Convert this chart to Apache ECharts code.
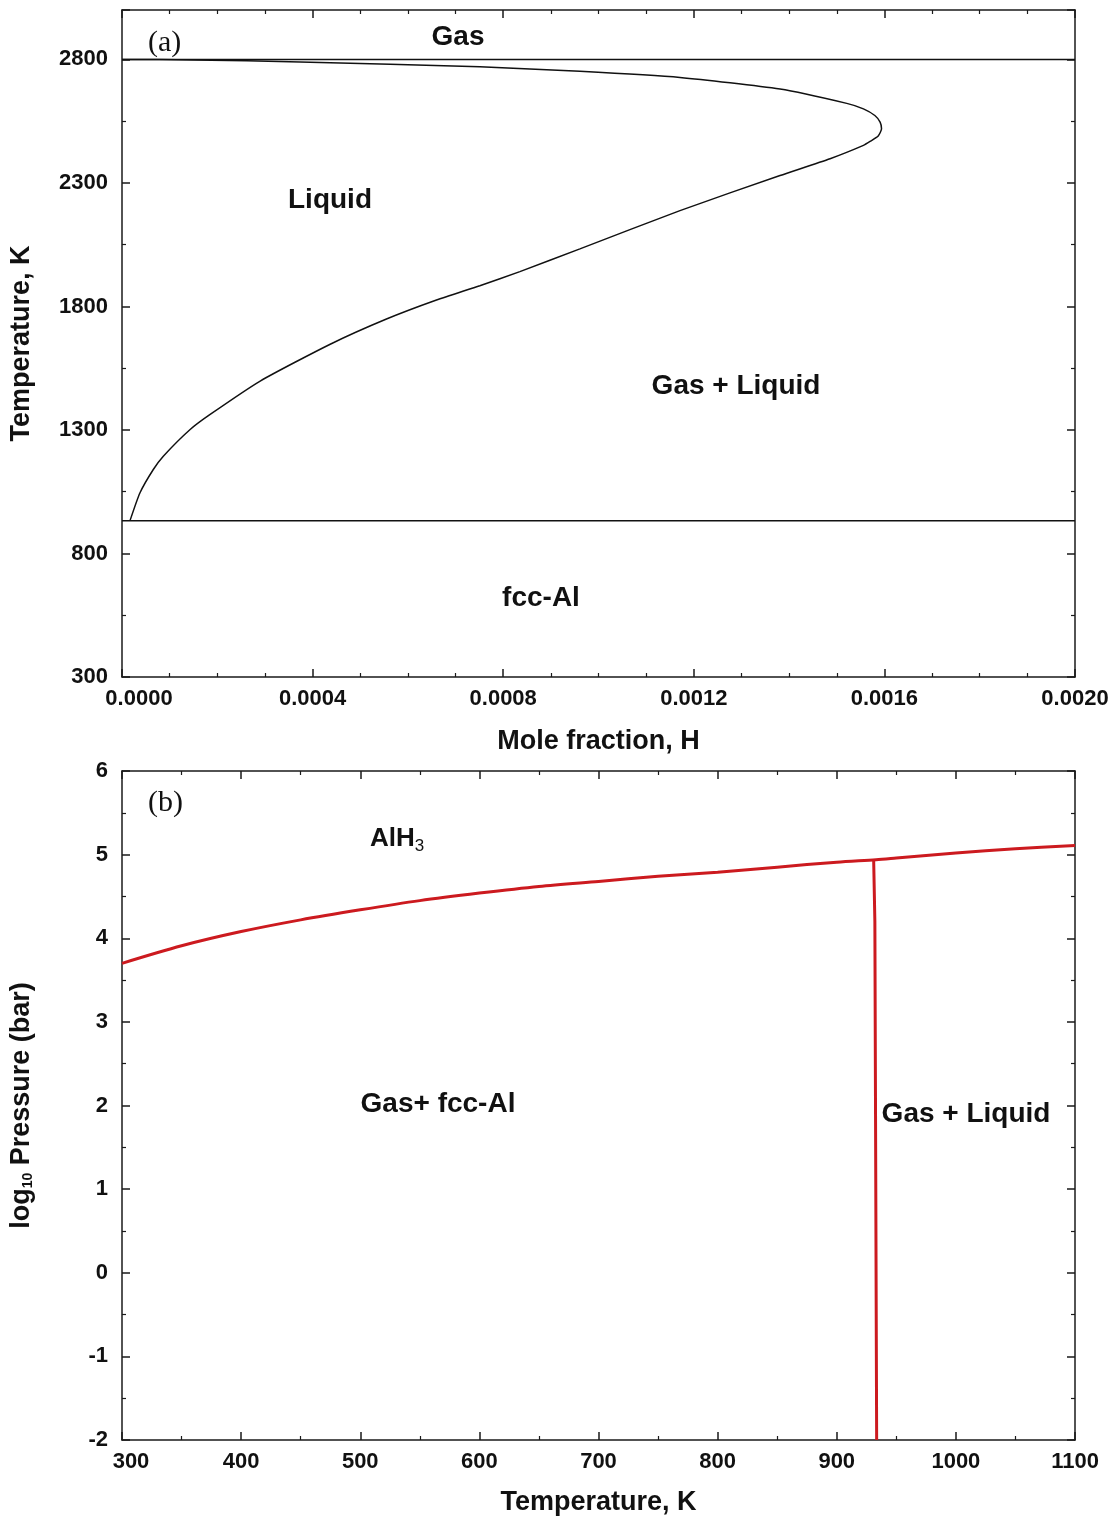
<!DOCTYPE html>
<html>
<head>
<meta charset="utf-8">
<title>Al–H phase diagram</title>
<script src="https://cdn.jsdelivr.net/npm/echarts@6/dist/echarts.min.js"></script>
<style>
  html, body { margin: 0; padding: 0; background: #fff; }
  #chart { width: 1115px; height: 1523px; }
</style>
</head>
<body>
<div id="chart"></div>
<script>
// (a) Liquid / Gas+Liquid boundary: mole fraction H vs temperature (K)
const boundaryX = [0.0000168, 0.0000378, 0.0000657, 0.0000867, 0.000143, 0.000185, 0.00029, 0.000437,
  0.000555, 0.00066, 0.000751, 0.000835, 0.000961, 0.001171, 0.001381, 0.001486, 0.001556, 0.00157,
  0.001587, 0.001594, 0.001591, 0.00158, 0.001556, 0.001521, 0.001381, 0.001171, 0.000961, 0.000751,
  0.000374, 0.00015, 0];
const boundaryT = [933, 1046, 1140, 1194, 1302, 1363, 1498, 1647,
  1749, 1826, 1884, 1941, 2033, 2188, 2330, 2398, 2452, 2468,
  2490, 2519, 2546, 2573, 2600, 2622, 2680, 2727, 2752, 2770,
  2790, 2798, 2800];
// horizontal boundaries in (a): boiling (Gas) and melting (fcc-Al)
const gasLineT = 2800;
const meltLineT = 933;
const moleFractionRange = [0, 0.002];

// (b) AlH3 decomposition pressure vs temperature
const alh3T = [300, 350, 400, 450, 500, 550, 600, 650, 700, 750, 800, 850, 900, 933, 950, 1000, 1050, 1100];
const alh3LogP = [3.70, 3.91, 4.08, 4.22, 4.34, 4.45, 4.54, 4.62, 4.68, 4.74, 4.79, 4.85, 4.91, 4.94, 4.96, 5.02, 5.07, 5.11];
// melting of Al: near-vertical boundary
const meltT = [931, 932, 933.5];
const meltLogP = [4.93, 4.2, -2];

const zip = (a, b) => a.map((v, i) => [v, b[i]]);

const FONT = 'Liberation Sans, Arial, sans-serif';
const SERIF = 'Liberation Serif, Times New Roman, serif';
const AX = '#1a1a1a';
const TICK_FS = 22;

function frameAxis(extra) {
  return Object.assign({
    type: 'value',
    axisLine: { show: true, onZero: false, lineStyle: { color: AX, width: 1.5 } },
    axisTick: { show: true, inside: true, length: 8, lineStyle: { color: AX, width: 1.5 } },
    minorTick: { show: true, length: 4, lineStyle: { color: AX, width: 1.2 } },
    splitLine: { show: false },
    axisLabel: { show: false }
  }, extra);
}
const tickLabel = {
  show: true, fontFamily: FONT, fontWeight: 'bold', fontSize: TICK_FS, color: '#111'
};
const axisNameStyle = { fontFamily: FONT, fontWeight: 'bold', fontSize: 27, color: '#111' };
const regionFont = 'bold 28px ' + FONT;

const chart = echarts.init(document.getElementById('chart'), null, { renderer: 'canvas' });

const option = {
  backgroundColor: '#fff',
  animation: false,
  grid: [
    { left: 122, top: 10, width: 953, height: 667 },
    { left: 122, top: 771, width: 953, height: 669 }
  ],
  xAxis: [
    frameAxis({
      gridIndex: 0, position: 'bottom', min: moleFractionRange[0], max: moleFractionRange[1], interval: 0.0004,
      minorTick: { show: true, splitNumber: 4, length: 4, lineStyle: { color: AX, width: 1.2 } },
      axisLabel: Object.assign({}, tickLabel, {
        margin: 11,
        formatter: v => v === 0 ? '{first|0.0000}' : v.toFixed(4),
        rich: { first: { fontFamily: FONT, fontWeight: 'bold', fontSize: TICK_FS, color: '#111', padding: [0, 0, 0, 34] } }
      }),
      name: 'Mole fraction, H', nameLocation: 'middle', nameGap: 51, nameTextStyle: axisNameStyle
    }),
    frameAxis({
      gridIndex: 0, position: 'top', min: moleFractionRange[0], max: moleFractionRange[1], interval: 0.0004,
      minorTick: { show: true, splitNumber: 4, length: 4, lineStyle: { color: AX, width: 1.2 } }
    }),
    frameAxis({
      gridIndex: 1, position: 'bottom', min: 300, max: 1100, interval: 100,
      minorTick: { show: true, splitNumber: 2, length: 4, lineStyle: { color: AX, width: 1.2 } },
      axisLabel: Object.assign({}, tickLabel, {
        margin: 11,
        formatter: v => v === 300 ? '{first|300}' : String(v),
        rich: { first: { fontFamily: FONT, fontWeight: 'bold', fontSize: TICK_FS, color: '#111', padding: [0, 0, 0, 18] } }
      }),
      name: 'Temperature, K', nameLocation: 'middle', nameGap: 49, nameTextStyle: axisNameStyle
    }),
    frameAxis({
      gridIndex: 1, position: 'top', min: 300, max: 1100, interval: 100,
      minorTick: { show: true, splitNumber: 2, length: 4, lineStyle: { color: AX, width: 1.2 } }
    })
  ],
  yAxis: [
    frameAxis({
      gridIndex: 0, position: 'left', min: 300, max: 3000, interval: 500,
      minorTick: { show: true, splitNumber: 2, length: 4, lineStyle: { color: AX, width: 1.2 } },
      axisLabel: Object.assign({}, tickLabel, {
        margin: 14,
        formatter: v => v > 2800 ? '' : String(v)
      }),
      name: 'Temperature, K', nameLocation: 'middle', nameGap: 87, nameRotate: 90, nameTextStyle: axisNameStyle
    }),
    frameAxis({
      gridIndex: 0, position: 'right', min: 300, max: 3000, interval: 500,
      minorTick: { show: true, splitNumber: 2, length: 4, lineStyle: { color: AX, width: 1.2 } }
    }),
    frameAxis({
      gridIndex: 1, position: 'left', min: -2, max: 6, interval: 1,
      minorTick: { show: true, splitNumber: 2, length: 4, lineStyle: { color: AX, width: 1.2 } },
      axisLabel: Object.assign({}, tickLabel, { margin: 14 }),
      name: '{a|log}{s|10}{a| Pressure (bar)}', nameLocation: 'middle', nameGap: 87, nameRotate: 90,
      nameTextStyle: Object.assign({}, axisNameStyle, {
        rich: {
          a: axisNameStyle,
          s: { fontFamily: FONT, fontWeight: 'bold', fontSize: 14, color: '#111', verticalAlign: 'bottom', padding: [12, 0, 0, 0] }
        }
      })
    }),
    frameAxis({
      gridIndex: 1, position: 'right', min: -2, max: 6, interval: 1,
      minorTick: { show: true, splitNumber: 2, length: 4, lineStyle: { color: AX, width: 1.2 } }
    })
  ],
  series: [
    {
      name: 'Liquid boundary', type: 'line', xAxisIndex: 0, yAxisIndex: 0,
      data: zip(boundaryX, boundaryT), smooth: 0.2, showSymbol: false,
      lineStyle: { color: '#111', width: 1.5 }
    },
    {
      name: 'Gas boundary', type: 'line', xAxisIndex: 0, yAxisIndex: 0,
      data: [[moleFractionRange[0], gasLineT], [moleFractionRange[1], gasLineT]], showSymbol: false,
      lineStyle: { color: '#111', width: 1.5 }
    },
    {
      name: 'Melting line', type: 'line', xAxisIndex: 0, yAxisIndex: 0,
      data: [[moleFractionRange[0], meltLineT], [moleFractionRange[1], meltLineT]], showSymbol: false,
      lineStyle: { color: '#111', width: 1.5 }
    },
    {
      name: 'AlH3 boundary', type: 'line', xAxisIndex: 2, yAxisIndex: 2,
      data: zip(alh3T, alh3LogP), smooth: 0.3, showSymbol: false,
      lineStyle: { color: '#cc1a1f', width: 3 }
    },
    {
      name: 'Melting boundary', type: 'line', xAxisIndex: 2, yAxisIndex: 2,
      data: zip(meltT, meltLogP), showSymbol: false,
      lineStyle: { color: '#cc1a1f', width: 3 }
    }
  ],
  graphic: [
    { type: 'text', x: 148, y: 43, style: { text: '(a)', font: '30px ' + SERIF, fill: '#111', align: 'left', verticalAlign: 'middle' } },
    { type: 'text', x: 148, y: 803, style: { text: '(b)', font: '30px ' + SERIF, fill: '#111', align: 'left', verticalAlign: 'middle' } },
    { type: 'text', x: 458, y: 37, style: { text: 'Gas', font: regionFont, fill: '#111', align: 'center', verticalAlign: 'middle' } },
    { type: 'text', x: 330, y: 200, style: { text: 'Liquid', font: regionFont, fill: '#111', align: 'center', verticalAlign: 'middle' } },
    { type: 'text', x: 736, y: 386, style: { text: 'Gas + Liquid', font: regionFont, fill: '#111', align: 'center', verticalAlign: 'middle' } },
    { type: 'text', x: 541, y: 598, style: { text: 'fcc-Al', font: regionFont, fill: '#111', align: 'center', verticalAlign: 'middle' } },
    { type: 'text', x: 370, y: 822, style: {
        text: '{a|AlH}{s|3}', align: 'left', verticalAlign: 'top',
        rich: {
          a: { font: 'bold 26px ' + FONT, fill: '#111' },
          s: { font: '17px ' + FONT, fill: '#111', verticalAlign: 'bottom', padding: [16, 0, 0, 0] }
        }
      } },
    { type: 'text', x: 438, y: 1104, style: { text: 'Gas+ fcc-Al', font: regionFont, fill: '#111', align: 'center', verticalAlign: 'middle' } },
    { type: 'text', x: 966, y: 1114, style: { text: 'Gas + Liquid', font: regionFont, fill: '#111', align: 'center', verticalAlign: 'middle' } }
  ]
};

chart.setOption(option);
</script>
</body>
</html>
